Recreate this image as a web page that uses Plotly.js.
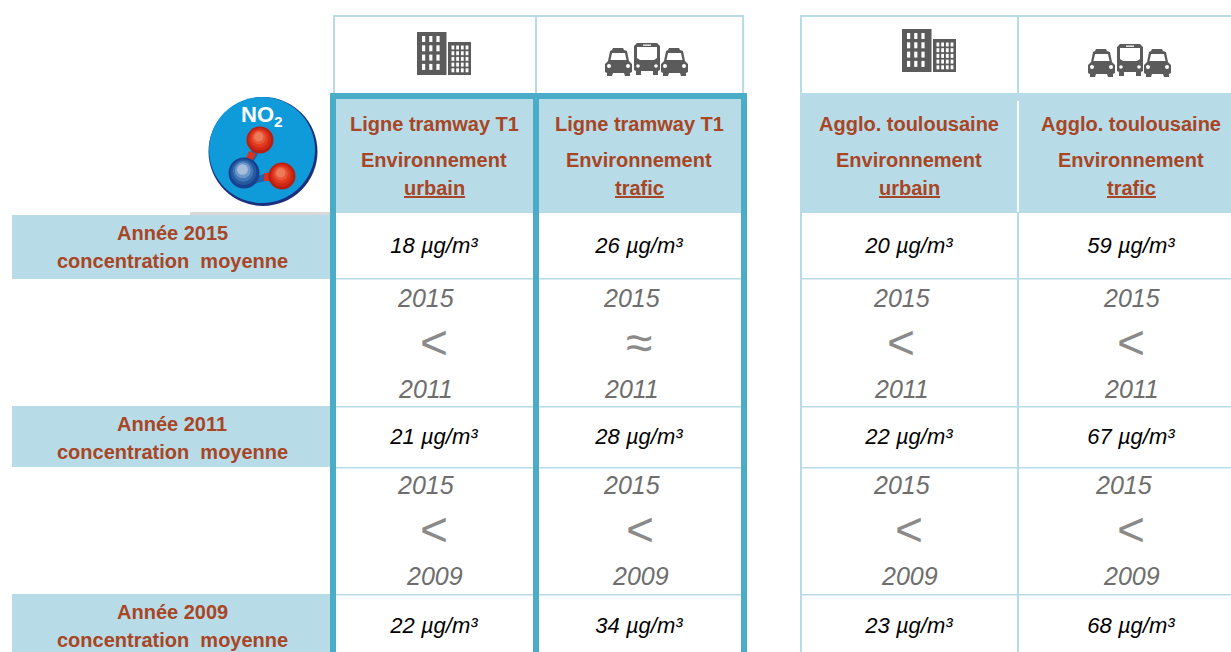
<!DOCTYPE html>
<html><head><meta charset="utf-8">
<script src="https://cdn.plot.ly/plotly-3.0.1.min.js"></script>
<style>html,body{margin:0;padding:0;background:#fff}#c{width:1231px;height:652px}</style>
</head><body><div id="c"></div>
<script>
// ---- chart data ----
const sites = ["Ligne tramway T1", "Ligne tramway T1", "Agglo. toulousaine", "Agglo. toulousaine"];
const envs = ["urbain", "trafic", "urbain", "trafic"];
const years = [2015, 2011, 2009];
const no2_2015 = [18, 26, 20, 59];
const no2_2011 = [21, 28, 22, 67];
const no2_2009 = [22, 34, 23, 68];
const cmp_2015_2011 = ["<", "≈", "<", "<"];
const cmp_2015_2009 = ["<", "<", "<", "<"];
const unit = "µg/m³";
const rowCaption = "concentration\u00A0\u00A0moyenne";
const topNote = "sur la bande d'étude.";

// ---- layout ----
const W = 1231, H = 652;
const LIGHT = "#b7dce8", HEAVY = "#4bacc8", RUST = "#a84524", ICON = "#5b5b5b";
const HEAD = "'Liberation Sans Narrow','Liberation Sans',sans-serif";
const BODY = "'Liberation Sans',sans-serif";
const colX = [434, 639, 909, 1131];
const valueY = [247, 438, 627];
const labelY = [[233, 261], [424, 452], [612, 640]];
const shapes = [], annotations = [];

function rect(x0, y0, x1, y1, c) { shapes.push({type:"rect", x0, y0, x1, y1, fillcolor:c, line:{width:0}}); }
function circ(cx, cy, r, c) { shapes.push({type:"circle", x0:cx-r, y0:cy-r, x1:cx+r, y1:cy+r, fillcolor:c, line:{width:0}}); }
function poly(pts, c) { shapes.push({type:"path", path:"M"+pts.map(p=>p.join(",")).join("L")+"Z", fillcolor:c, line:{width:0}}); }
function txt(x, y, text, size, color, family, extra) {
  annotations.push(Object.assign({x, y, text, showarrow:false, xanchor:"center", yanchor:"middle",
    font:{size, color, family}, borderpad:0, borderwidth:0}, extra||{}));
}

// header fills
rect(336, 99, 741, 213, LIGHT);
rect(800, 93, 1231, 213, LIGHT);
rect(1017, 101, 1019, 212, "#ffffff");
// row label fills
rect(190, 212, 330, 215, "#d9d9d9");
rect(12, 215, 330, 279, LIGHT);
rect(12, 406, 330, 467, LIGHT);
rect(12, 594, 330, 652, LIGHT);
// light grid
[[333,15,744,17],[800,15,1231,17],[333,15,335,94],[535,15,537,94],[742,15,744,94],
 [800,15,802,94],[1017,15,1019,94],[800,213,802,652],[1017,213,1019,652]].forEach(r=>rect(r[0],r[1],r[2],r[3],LIGHT));
[278,406,467,594].forEach(y=>{ rect(336,y,741,y+1.6,LIGHT); rect(800,y,1231,y+1.6,LIGHT); });
// heavy frame
rect(330,93,747,99,HEAVY);
rect(330,93,336,652,HEAVY);
rect(533,93,539,652,HEAVY);
rect(741,93,747,652,HEAVY);

// building icon
function building(ox, oy) {
  const f = (x0,y0,x1,y1,c)=>rect(x0+ox,y0+oy,x1+ox,y1+oy,c);
  f(417,32,446.5,75,ICON);
  f(448,42,471,75,ICON);
  for (let r=0;r<4;r++) for (let c=0;c<3;c++) f(422+c*7.2,36+r*9.3,425.2+c*7.2,42+r*9.3,"#ffffff");
  for (let r=0;r<5;r++) for (let c=0;c<4;c++) f(451.5+c*4.7,45.5+r*5.7,454.3+c*4.7,49.5+r*5.7,"#ffffff");
}
building(0,0); building(485,-3);

// car + bus icon
function car(ox, oy) {
  const P = a=>a.map(p=>[p[0]+ox,p[1]+oy]);
  poly(P([[8,1],[18,1],[19,3],[22,4],[24,14],[27,17],[27,25],[25,26],[25,29],[20,29],[19,26],[8,26],[7,29],[2,29],[2,26],[0,25],[0,17],[3,14],[5,4],[7,3]]),ICON);
  poly(P([[7,6],[20,6],[21.5,13],[5.5,13]]),"#ffffff");
  circ(4+ox,19+oy,2,"#ffffff"); circ(23+ox,19+oy,2,"#ffffff");
}
function bus(ox, oy) {
  const P = a=>a.map(p=>[p[0]+ox,p[1]+oy]);
  poly(P([[3,0],[23,0],[26,3],[26,27],[24,28],[24,32],[19,32],[19,28],[7,28],[7,32],[2,32],[2,28],[0,27],[0,3]]),ICON);
  poly(P([[3,4],[23,4],[23,15],[20,17],[6,17],[3,15]]),"#ffffff");
  rect(9+ox,1.5+oy,17+ox,2.8+oy,"#ffffff");
  circ(4+ox,23+oy,1.8,"#ffffff"); circ(22+ox,23+oy,1.8,"#ffffff");
}
function traffic(ox, oy) { car(605+ox,47+oy); bus(634+ox,43+oy); car(661+ox,47+oy); }
traffic(0,0); traffic(483,1);

// NO2 badge
circ(263, 151.5, 54.5, "#1c2f7e");
circ(262, 150, 53, "#0f9bd9");
poly([[252,150],[258,154],[250,168],[243,165]], "#1f63ad");
poly([[252,178],[270,172],[272,179],[254,184]], "#1f63ad");
poly([[249,151],[256,154],[252,161],[246,158]], "#d8331d");
rect(264,173,272,181,"#d8331d");
function ball(cx, cy, r, cols) {
  cols.forEach((c,i)=>{ const k=i/cols.length; circ(cx-k*r*0.12, cy-k*r*0.28, r*(1-k*0.82), c); });
}
ball(260,140,13.5,["#b81e10","#d02a16","#e03a20","#e85636","#ee7a5c"]);
ball(282,176,13.5,["#b81e10","#d02a16","#e03a20","#e85636","#ee7a5c"]);
ball(244,173,15.5,["#17418f","#24589f","#3d75b5","#6f98c9","#a7bddc"]);
txt(262,116,"NO<sub>2</sub>",22,"#ffffff",BODY+"");
annotations[annotations.length-1].text = "<b>NO<sub>2</sub></b>";

// cut-off line of text above the table
txt(18,5,topNote,22,"#222222","Roboto,sans-serif",{xanchor:"left",yanchor:"bottom"});

// column headers
colX.forEach((x,i)=>{
  txt(x,124,"<b>"+sites[i]+"</b>",20,RUST,HEAD);
  txt(x,160,"<b>Environnement</b>",20,RUST,HEAD);
  txt(x,188,"<b><u>"+envs[i]+"</u></b>",20,RUST,HEAD);
});
// row labels
years.forEach((yr,i)=>{
  txt(172,labelY[i][0],"<b>Année "+yr+"</b>",20,RUST,HEAD);
  txt(172,labelY[i][1],"<b>"+rowCaption+"</b>",20,RUST,HEAD);
});
// comparisons
const GREYY="#6e6e6e", GREYS="#8a8a8a";
const blockA = {top:[425,631,901,1131], sym:[434,639,901,1131], bot:[425,631,901,1131]};
const blockB = {top:[425,631,901,1123], sym:[434,640,909,1131], bot:[434,640,909,1131]};
function cmp(b, a, c, syms, y1, y2, y3) {
  for (let i=0;i<4;i++) {
    txt(b.top[i],y1,"<i>"+a+"</i>",25,GREYY,BODY);
    txt(b.sym[i],y2,syms[i],48,GREYS,BODY);
    txt(b.bot[i],y3,"<i>"+c+"</i>",25,GREYY,BODY);
  }
}
cmp(blockA,years[0],years[1],cmp_2015_2011,298,342,389);
cmp(blockB,years[0],years[2],cmp_2015_2009,485,529,576);

// measured values, drawn as a text trace on the axes
const rows = [no2_2015,no2_2011,no2_2009];
const trace = {
  type:"scatter", mode:"text", hoverinfo:"skip", showlegend:false,
  x: rows.flatMap(()=>colX),
  y: rows.flatMap((r,j)=>r.map(()=>valueY[j])),
  text: rows.flatMap(r=>r.map(v=>v+" "+unit)),
  textposition:"middle center",
  textfont:{family:BODY,size:22,color:"#000000",style:"italic"}
};

Plotly.newPlot("c",[trace],{
  width:W,height:H,margin:{l:0,r:0,t:0,b:0},paper_bgcolor:"#fff",plot_bgcolor:"#fff",
  xaxis:{range:[0,W],visible:false,fixedrange:true},
  yaxis:{range:[H,0],visible:false,fixedrange:true},
  shapes,annotations,showlegend:false
},{displayModeBar:false,staticPlot:true});
</script></body></html>
